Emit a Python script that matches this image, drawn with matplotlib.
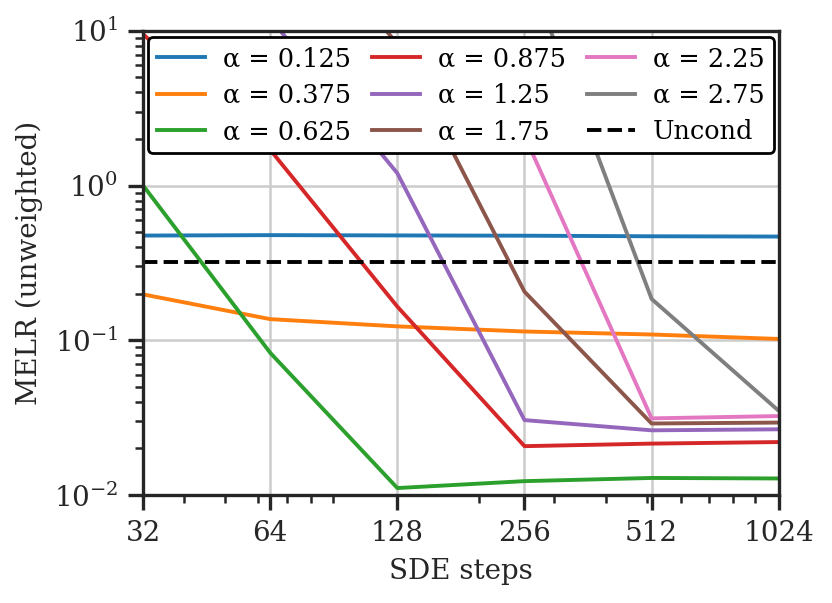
import numpy as np
import matplotlib
matplotlib.use('Agg')
import matplotlib.pyplot as plt
from matplotlib.ticker import NullFormatter, FixedLocator, FixedFormatter

plt.rcParams['font.family'] = ['DejaVu Serif']
plt.rcParams['mathtext.fontset'] = 'dejavuserif'

steps = [32, 64, 128, 256, 512, 1024]
alphas = ['0.125', '0.375', '0.625', '0.875', '1.25', '1.75', '2.25', '2.75']
nan = np.nan
melr = {
    '0.125': [0.475, 0.478, 0.476, 0.474, 0.470, 0.468],
    '0.375': [0.198, 0.137, 0.123, 0.114, 0.109, 0.102],
    '0.625': [1.0, 0.083, 0.0111, 0.0123, 0.0129, 0.0128],
    '0.875': [9.5, 1.7, 0.165, 0.0207, 0.0215, 0.0220],
    '1.25': [nan, 12.0, 1.2, 0.0305, 0.0262, 0.0266],
    '1.75': [nan, 80.0, 8.2, 0.206, 0.029, 0.0294],
    '2.25': [nan, nan, nan, 2.1, 0.0313, 0.0324],
    '2.75': [nan, nan, nan, 28.0, 0.185, 0.035],
}
uncond = 0.32
colors = ['#1f77b4', '#ff7f0e', '#2ca02c', '#d62728',
          '#9467bd', '#8c564b', '#e377c2', '#7f7f7f']

fig = plt.figure(figsize=(4.16, 3.015), dpi=200)
ax = fig.add_axes([0.172, 0.179, 0.764, 0.770])

for a, c in zip(alphas, colors):
    ax.plot(steps, melr[a], color=c, lw=1.4, label='α = ' + a)
ax.axhline(uncond, color='black', ls='--', lw=1.4, label='Uncond')

ax.set_xscale('log')
ax.set_yscale('log')
ax.set_xlim(32, 1024)
ax.set_ylim(1e-2, 1e1)
ax.xaxis.set_major_locator(FixedLocator(steps))
ax.xaxis.set_major_formatter(FixedFormatter([str(s) for s in steps]))
ax.xaxis.set_minor_formatter(NullFormatter())

ax.grid(True, which='major', color='#cccccc', lw=0.9)
ax.set_axisbelow(True)
for sp in ax.spines.values():
    sp.set_color('#262626')
    sp.set_linewidth(1.2)
ax.tick_params(which='major', direction='out', length=5.5, width=1.2,
               color='#262626', labelsize=10, labelcolor='#262626')
ax.tick_params(which='minor', direction='out', length=3, width=0.9,
               color='#262626')

ax.set_xlabel('SDE steps', fontsize=10, color='#262626')
ax.set_ylabel('MELR (unweighted)', fontsize=10, color='#262626')

leg = ax.legend(loc='upper center', ncol=3, fontsize=9.2, frameon=True,
                edgecolor='black', framealpha=1, borderaxespad=0.25,
                columnspacing=0.8, handlelength=1.9, labelspacing=0.45,
                handletextpad=0.7, borderpad=0.35)
leg.get_frame().set_linewidth(1.0)

fig.savefig('out.png', dpi=200)
